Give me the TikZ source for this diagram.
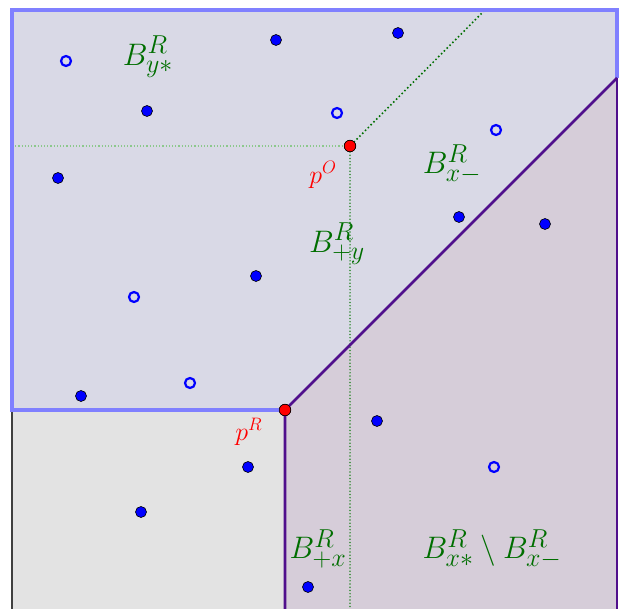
\documentclass[tikz,border=0pt]{standalone}
\definecolor{lav}{RGB}{217,217,230}
\definecolor{pinkgray}{RGB}{214,205,217}
\definecolor{lgray}{RGB}{227,227,227}
\definecolor{bordblue}{RGB}{128,128,255}
\definecolor{bordpurple}{RGB}{80,15,140}
\definecolor{dgreen}{RGB}{0,110,0}
\definecolor{lgreen}{RGB}{140,200,140}
\definecolor{ptblue}{RGB}{0,0,255}
\tikzset{
  solidpt/.style={circle,fill=ptblue,draw=black,line width=0.6pt,inner sep=0pt,minimum size=11pt},
  hollowpt/.style={circle,draw=ptblue,line width=2.2pt,inner sep=0pt,minimum size=10pt},
  redpt/.style={circle,fill=red,draw=black,line width=0.6pt,inner sep=0pt,minimum size=11.5pt},
  blab/.style={text=dgreen,font=\Huge,scale=1.25,transform shape,inner sep=0pt},
  plab/.style={text=red,font=\LARGE,scale=1.5,transform shape,inner sep=0pt},
}
\begin{document}
\begin{tikzpicture}[x=1pt,y=-1pt]
\useasboundingbox (0,0) rectangle (628,609);
% regions
\fill[lav] (12,10) -- (617,10) -- (617,78) -- (285,410) -- (12,410) -- cycle;
\fill[pinkgray] (617,78) -- (285,410) -- (285,609) -- (617,609) -- cycle;
\fill[lgray] (12,410) rectangle (285,609);
% coordinates
\coordinate (tl) at (12,10);
\coordinate (tr) at (617,10);
\coordinate (rc) at (617,78);
\coordinate (br) at (617,609);
\coordinate (bl) at (12,609);
\coordinate (ml) at (12,410);
\coordinate (pRb) at (285,609);
\coordinate (hl) at (12,146);
\coordinate (vt) at (350,609);
\coordinate (dt) at (485,10);
% points
\node[redpt] (pO) at (350,146) {};
\node[redpt] (pR) at (285,410) {};
% dotted guides
\draw[lgreen,dotted,line width=1.2pt] (hl) -- (pO);
\draw[dgreen!80,line cap=round,dash pattern=on 0pt off 3.2pt,line width=1.7pt] (pO) -- (vt);
\draw[dgreen,line cap=round,dash pattern=on 0pt off 4pt,line width=2.2pt] (pO) -- (dt);
% borders
\draw[black!75,line width=1.5pt] (ml) -- (bl);
\draw[bordblue,line width=4pt,line join=miter] (pR.center) -- (ml) -- (tl) -- (tr) -- (rc);
\draw[bordpurple,line width=2.6pt] (rc) -- (pR.center) -- (pRb);
\draw[bordpurple,line width=2.6pt] (rc) -- (br);
% redraw red points on top
\node[redpt] at (pO) {};
\node[redpt] at (pR) {};
% solid points
\node[solidpt] (s1) at (276,40) {};
\node[solidpt] (s2) at (398,33) {};
\node[solidpt] (s3) at (147,111) {};
\node[solidpt] (s4) at (58,178) {};
\node[solidpt] (s5) at (459,217) {};
\node[solidpt] (s6) at (545,224) {};
\node[solidpt] (s7) at (256,276) {};
\node[solidpt] (s8) at (81,396) {};
\node[solidpt] (s9) at (377,421) {};
\node[solidpt] (s10) at (248,467) {};
\node[solidpt] (s11) at (141,512) {};
\node[solidpt] (s12) at (308,587) {};
% hollow points
\node[hollowpt] (h1) at (66,61) {};
\node[hollowpt] (h2) at (337,113) {};
\node[hollowpt] (h3) at (496,130) {};
\node[hollowpt] (h4) at (134,297) {};
\node[hollowpt] (h5) at (190,383) {};
\node[hollowpt] (h6) at (494,467) {};
% labels
\node[blab] (lyst) at (148,57) {$B^R_{y*}$};
\node[blab] (lxm) at (452,164) {$B^R_{x-}$};
\node[blab] (lpy) at (337,244) {$B^R_{+y}$};
\node[blab] (lpx) at (318,549) {$B^R_{+x}$};
\node[blab] (ldiff) at (492,549) {$B^R_{x*}\setminus B^R_{x-}$};
\node[plab] (lpO) at (323,175) {$p^O$};
\node[plab] (lpR) at (249,432) {$p^R$};
\end{tikzpicture}
\end{document}
